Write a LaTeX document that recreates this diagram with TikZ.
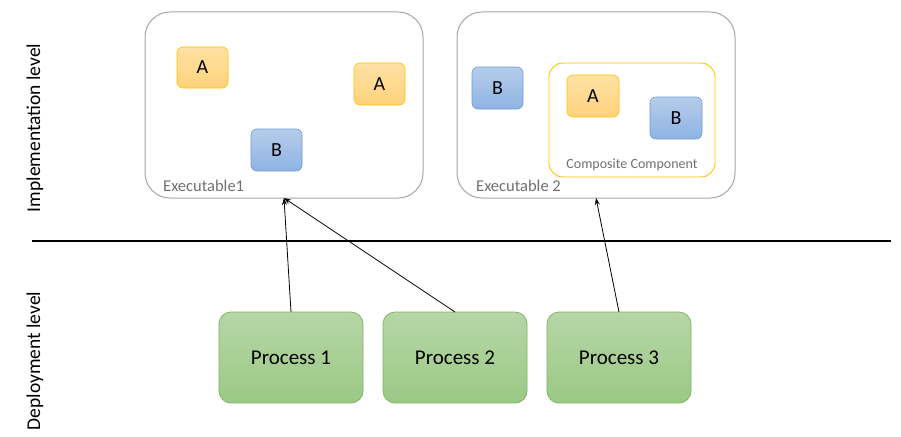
\documentclass[tikz,border=0pt]{standalone}
\usepackage{fontspec}
\setmainfont{Carlito}
\usetikzlibrary{arrows.meta}
\definecolor{exeborder}{HTML}{A6A6A6}
\definecolor{exetext}{HTML}{707070}
\definecolor{orgborder}{HTML}{FFC000}
\definecolor{orgtop}{HTML}{FFE2A6}
\definecolor{orgbot}{HTML}{FFD27A}
\definecolor{bluborder}{HTML}{6C9BD8}
\definecolor{blutop}{HTML}{B6CDEB}
\definecolor{blubot}{HTML}{8EB3E2}
\definecolor{grnborder}{HTML}{82B366}
\definecolor{grntop}{HTML}{B6D6A6}
\definecolor{grnbot}{HTML}{9BC985}
\tikzset{
  exebox/.style={draw=exeborder, line width=1pt, rounded corners=25pt},
  compbox/.style={draw=orgborder, line width=0.9pt, rounded corners=14pt},
  abox/.style={draw=orgborder, line width=0.6pt, rounded corners=6pt, top color=orgtop, bottom color=orgbot, font=\fontsize{20}{22}\selectfont},
  bbox/.style={draw=bluborder, line width=0.6pt, rounded corners=6pt, top color=blutop, bottom color=blubot, font=\fontsize{20}{22}\selectfont},
  procbox/.style={draw=grnborder, line width=0.8pt, rounded corners=12pt, top color=grntop, bottom color=grnbot, font=\fontsize{21}{24}\selectfont},
  lbl/.style={text=exetext, font=\fontsize{16.5}{18}\selectfont, anchor=west, inner sep=0pt},
  lvl/.style={rotate=90, font=\fontsize{19.5}{22}\selectfont, inner sep=0pt},
  conn/.style={line width=0.8pt, -{Stealth[length=7pt,width=5pt]}}
}
\begin{document}
\begin{tikzpicture}[x=1pt,y=-1pt]
\useasboundingbox (0,0) rectangle (901,436);
% Executable 1
\draw[exebox] (145,12) rectangle (423,198);
\coordinate (exe1) at (284,198);
\node[lbl] (exe1lbl) at (163,186) {Executable1};
\draw[abox] (177,47) rectangle node (a1) {A} (228,88);
\draw[abox] (354,63) rectangle node (a2) {A} (405,105);
\draw[bbox] (251,129) rectangle node (b1) {B} (302,171);
% Executable 2
\draw[exebox] (457,12) rectangle (735,198);
\coordinate (exe2) at (596,198);
\node[lbl] (exe2lbl) at (476,186) {Executable 2};
\draw[bbox] (472,67) rectangle node (b2) {B} (523,109);
\draw[compbox] (549,63) rectangle (715,177);
\node[text=exetext, font=\fontsize{14}{16}\selectfont, inner sep=0pt] (complbl) at (632,165) {Composite Component};
\draw[abox] (567,75) rectangle node (a3) {A} (619,117);
\draw[bbox] (650,97) rectangle node (b3) {B} (702,139);
% separator
\coordinate (sepl) at (32,241);
\coordinate (sepr) at (891,241);
\draw[line width=2pt] (sepl) -- (sepr);
% levels
\node[lvl] (impl) at (35,128) {Implementation level};
\node[lvl] (depl) at (35,361) {Deployment level};
% processes
\draw[procbox] (219,312) rectangle node (p1) {Process 1} (363,403);
\draw[procbox] (383,312) rectangle node (p2) {Process 2} (527,403);
\draw[procbox] (547,312) rectangle node (p3) {Process 3} (691,403);
\coordinate (p1n) at (291,312);
\coordinate (p2n) at (455,312);
\coordinate (p3n) at (619,312);
\draw[conn] (p1n) -- (exe1);
\draw[conn] (p2n) -- (exe1);
\draw[conn] (p3n) -- (exe2);
\end{tikzpicture}
\end{document}
